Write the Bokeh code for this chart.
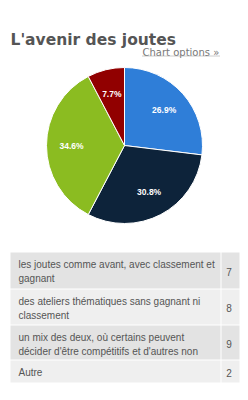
import math
from bokeh.plotting import figure
from bokeh.models import Range1d, ColumnDataSource
from bokeh.core.properties import value
from bokeh.embed import file_html
from bokeh.resources import INLINE

# ---- data ----
title = "L'avenir des joutes"
options_label = "Chart options \u00bb"
categories = [
    "les joutes comme avant, avec classement et\ngagnant",
    "des ateliers th\u00e9matiques sans gagnant ni\nclassement",
    "un mix des deux, o\u00f9 certains peuvent\nd\u00e9cider d'\u00eatre comp\u00e9titifs et d'autres non",
    "Autre",
]
counts = [7, 8, 9, 2]
colors = ["#2f7ed8", "#0d233a", "#8bbc21", "#910000"]

W, H = 248, 400
p = figure(width=W, height=H, output_backend="svg", toolbar_location=None,
           x_range=Range1d(0, W), y_range=Range1d(0, H), min_border=0)
p.axis.visible = False
p.grid.visible = False
p.outline_line_color = None
p.background_fill_color = "white"
p.border_fill_color = "white"

def Y(y):
    return H - y

# title
p.text(x=[10], y=[Y(39)], text=[title], text_font=value("DejaVu Sans"),
       text_font_style="bold", text_font_size="15.5px", text_color="#555555",
       text_baseline="alphabetic")
p.text(x=[142], y=[Y(52)], text=[options_label], text_font=value("DejaVu Sans"),
       text_font_size="10px", text_color="#777777", text_baseline="alphabetic")
p.segment(x0=[142], y0=[Y(55.5)], x1=[219], y1=[Y(55.5)], line_color="#999999",
          line_dash="1 1", line_width=1)

# pie
cx, cy, r = 124, 145, 78
total = sum(counts)
starts, ends, lx, ly, labels = [], [], [], [], []
cum = 0
for c in counts:
    f0 = cum / total
    cum += c
    f1 = cum / total
    starts.append(math.pi / 2 - f0 * 2 * math.pi)
    ends.append(math.pi / 2 - f1 * 2 * math.pi)
    mid = (f0 + f1) / 2 * 2 * math.pi
    d = 53
    lx.append(cx + d * math.sin(mid))
    ly.append(Y(cy - d * math.cos(mid)))
    labels.append(f"{c / total * 100:.1f}%")
src = ColumnDataSource(dict(start=starts, end=ends, color=colors))
p.wedge(x=cx, y=Y(cy), radius=r, start_angle="start", end_angle="end",
        direction="clock", fill_color="color", line_color="white", line_width=1,
        source=src)
p.text(x=lx, y=ly, text=labels, text_font=value("Liberation Sans"),
       text_font_style="bold", text_font_size="8.5px", text_color="white",
       text_align="center", text_baseline="middle")

# table
row_bounds = [(252, 288), (289, 324), (325, 359), (360, 382)]
fills = ["#e3e3e3", "#efefef", "#e3e3e3", "#efefef"]
left, div, right = 10, 220, 239
for i, (cat, n) in enumerate(zip(categories, counts)):
    top, bot = row_bounds[i]
    p.quad(left=left, right=div, top=Y(top), bottom=Y(bot), fill_color=fills[i],
           line_color=None)
    p.quad(left=div + 1, right=right, top=Y(top), bottom=Y(bot), fill_color=fills[i],
           line_color=None)
    lines = cat.split("\n")
    for j, ln in enumerate(lines):
        p.text(x=[18], y=[Y(top + 11.5 + 14 * j)], text=[ln],
               text_font=value("Liberation Sans"), text_font_size="10px",
               text_color="#555555", text_baseline="middle")
    p.text(x=[228.5], y=[Y((top + bot) / 2 + 1)], text=[str(n)],
           text_font=value("Liberation Sans"), text_font_size="10px",
           text_color="#555555", text_align="center", text_baseline="middle")

open("out.html", "w").write(file_html(p, INLINE))
